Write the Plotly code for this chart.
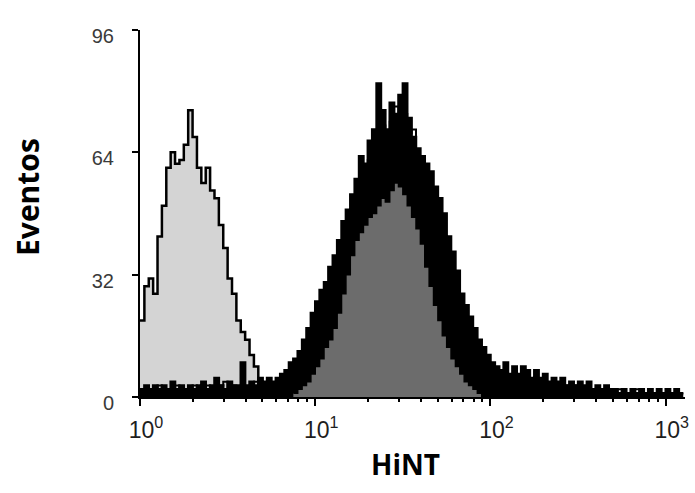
import numpy as np
import plotly.graph_objects as go

# ---- data (events per channel; channels are 0.025 decade wide) ----
STEP = 0.025
ctrl_start = 0.0
ctrl_counts = [20, 29, 31, 27, 42, 50, 60, 64, 61, 62, 66, 75, 68, 60, 56, 60, 54, 52,
               45, 39, 31, 27, 20, 17, 15, 11, 8, 4, 2, 0]

a_start = 0.0
a_counts = [2, 3, 2, 3, 2, 3, 2, 4, 2, 3, 2, 3, 2, 3, 4, 2, 3, 5, 3, 2,
            4, 3, 3, 9, 3, 4, 3, 5, 4, 5, 4, 5, 6, 7, 9, 10,
            12, 15, 18, 22, 25, 28, 30, 34, 37, 41, 46, 49, 53, 57, 63, 61, 67, 70, 82, 75,
            70, 77, 74, 79, 82, 73, 68, 65, 63, 61, 59, 55, 52, 48, 42, 38, 33, 27, 24, 21,
            18, 15, 13, 11, 9, 8, 7, 9, 6, 8, 6, 8, 7, 5, 7, 5, 6, 4, 5, 4,
            5, 3, 4, 3, 4, 3, 4, 2, 3, 2, 3, 2, 2, 1, 2, 1, 2, 1, 2, 1,
            2, 1, 2, 1, 2, 1, 2, 1]

b_start = 0.0
b_counts = [1, 2, 1, 2, 3, 1, 2, 1, 3, 2, 1, 2, 3, 1, 2, 3, 1, 2, 3, 4,
            2, 3, 2, 3, 2, 3, 4, 3, 2, 3, 3, 4, 3, 4, 5, 6,
            7, 9, 11, 14, 17, 20, 24, 27, 31, 34, 38, 44, 47, 50, 55, 58, 62, 60, 67, 71,
            66, 72, 76, 70, 74, 69, 70, 62, 58, 55, 50, 47, 44, 40, 36, 31, 27, 24, 20, 17,
            14, 12, 10, 9, 7, 6, 7, 5, 6, 5, 6, 4, 5, 4, 5, 3, 4, 3, 4, 3,
            2, 3, 2, 3, 2, 2, 1, 2, 1, 2, 1, 1, 1, 2, 1, 1, 1, 2, 1, 1,
            1, 1, 1, 1, 1, 1, 1, 1]

c_start = 0.875
c_counts = [1, 2, 3, 4, 6, 8, 10, 13, 15, 18, 22, 27, 32, 37, 41, 43, 45, 47, 48, 50,
            52, 51, 54, 56, 55, 53, 50, 47, 44, 40, 34, 29, 24, 20, 16, 13, 10, 8, 6, 4,
            3, 2, 1, 0]

x_tickvals = [1, 10, 100, 1000]
x_ticktext = ["10<sup>0</sup>", "10<sup>1</sup>", "10<sup>2</sup>", "10<sup>3</sup>"]
y_tickvals = [0, 32, 64, 96]
x_title = "HiNT"
y_title = "Eventos"


def channel_series(start, counts):
    n = len(counts)
    x = 10 ** (start + STEP * np.arange(n + 1))
    y = list(counts) + [counts[-1]]
    return x, y


fig = go.Figure()

# control (light grey)
x0, y0 = channel_series(ctrl_start, ctrl_counts)
fig.add_trace(go.Scatter(x=x0, y=y0, mode="lines", line=dict(shape="hv", color="black", width=2.5),
                         fill="tozeroy", fillcolor="#d4d4d4", showlegend=False))

# overlapping sample histograms (dense black outlines)
xa, ya = channel_series(a_start, a_counts)
fig.add_trace(go.Scatter(x=xa, y=ya, mode="lines", line=dict(shape="hv", color="black", width=2.5),
                         fill="tozeroy", fillcolor="black", showlegend=False))

# filled sample (dark grey)
xc, yc = channel_series(c_start, c_counts)
fig.add_trace(go.Scatter(x=xc, y=yc, mode="lines", line=dict(shape="hv", color="black", width=1.5),
                         fill="tozeroy", fillcolor="#6c6c6c", showlegend=False))

xb, yb = channel_series(b_start, b_counts)
fig.add_trace(go.Scatter(x=xb, y=yb, mode="lines", line=dict(shape="hv", color="black", width=2),
                         showlegend=False))

minor_vals = [m * d for d in (1, 10, 100) for m in range(2, 10)]

fig.update_layout(
    width=695, height=493,
    margin=dict(l=140, r=10, t=30, b=96),
    paper_bgcolor="white", plot_bgcolor="white",
    showlegend=False,
    xaxis=dict(type="log", range=[0, 3.11], showgrid=False, zeroline=False, automargin=False,
               showline=True, linecolor="black", linewidth=2,
               ticks="outside", ticklen=7, tickwidth=2, tickcolor="black",
               tickvals=x_tickvals, ticktext=x_ticktext,
               tickfont=dict(family="Liberation Sans, Arial", size=23, color="#1e1e1e"),
               ticklabelshift=6, ticklabelstandoff=4,
               minor=dict(ticks="outside", ticklen=3, tickwidth=1.5, tickcolor="black",
                          tickvals=minor_vals, showgrid=False)),
    yaxis=dict(range=[0, 96], showgrid=False, zeroline=False, automargin=False,
               showline=True, linecolor="black", linewidth=2,
               ticks="outside", ticklen=6, tickwidth=2, tickcolor="black",
               tickvals=y_tickvals,
               tickfont=dict(family="Liberation Sans, Arial", size=20, color="#3a3a3a"),
               ticklabelstandoff=14, ticklabelshift=6),
    annotations=[
        dict(text=f"<b>{y_title}</b>", xref="paper", yref="paper", x=-0.2055, y=0.545,
             xanchor="center", yanchor="middle", textangle=-90, showarrow=False,
             font=dict(family="Open Sans", size=30, color="black")),
        dict(text=f"<b>{x_title}</b>", xref="paper", yref="paper", x=0.488, y=-0.1826,
             xanchor="center", yanchor="middle", showarrow=False,
             font=dict(family="Open Sans", size=28, color="black")),
    ],
)

fig.write_html("out.html", config={"displayModeBar": False},
               post_script="document.body.style.margin='0';document.body.style.overflow='hidden';")
